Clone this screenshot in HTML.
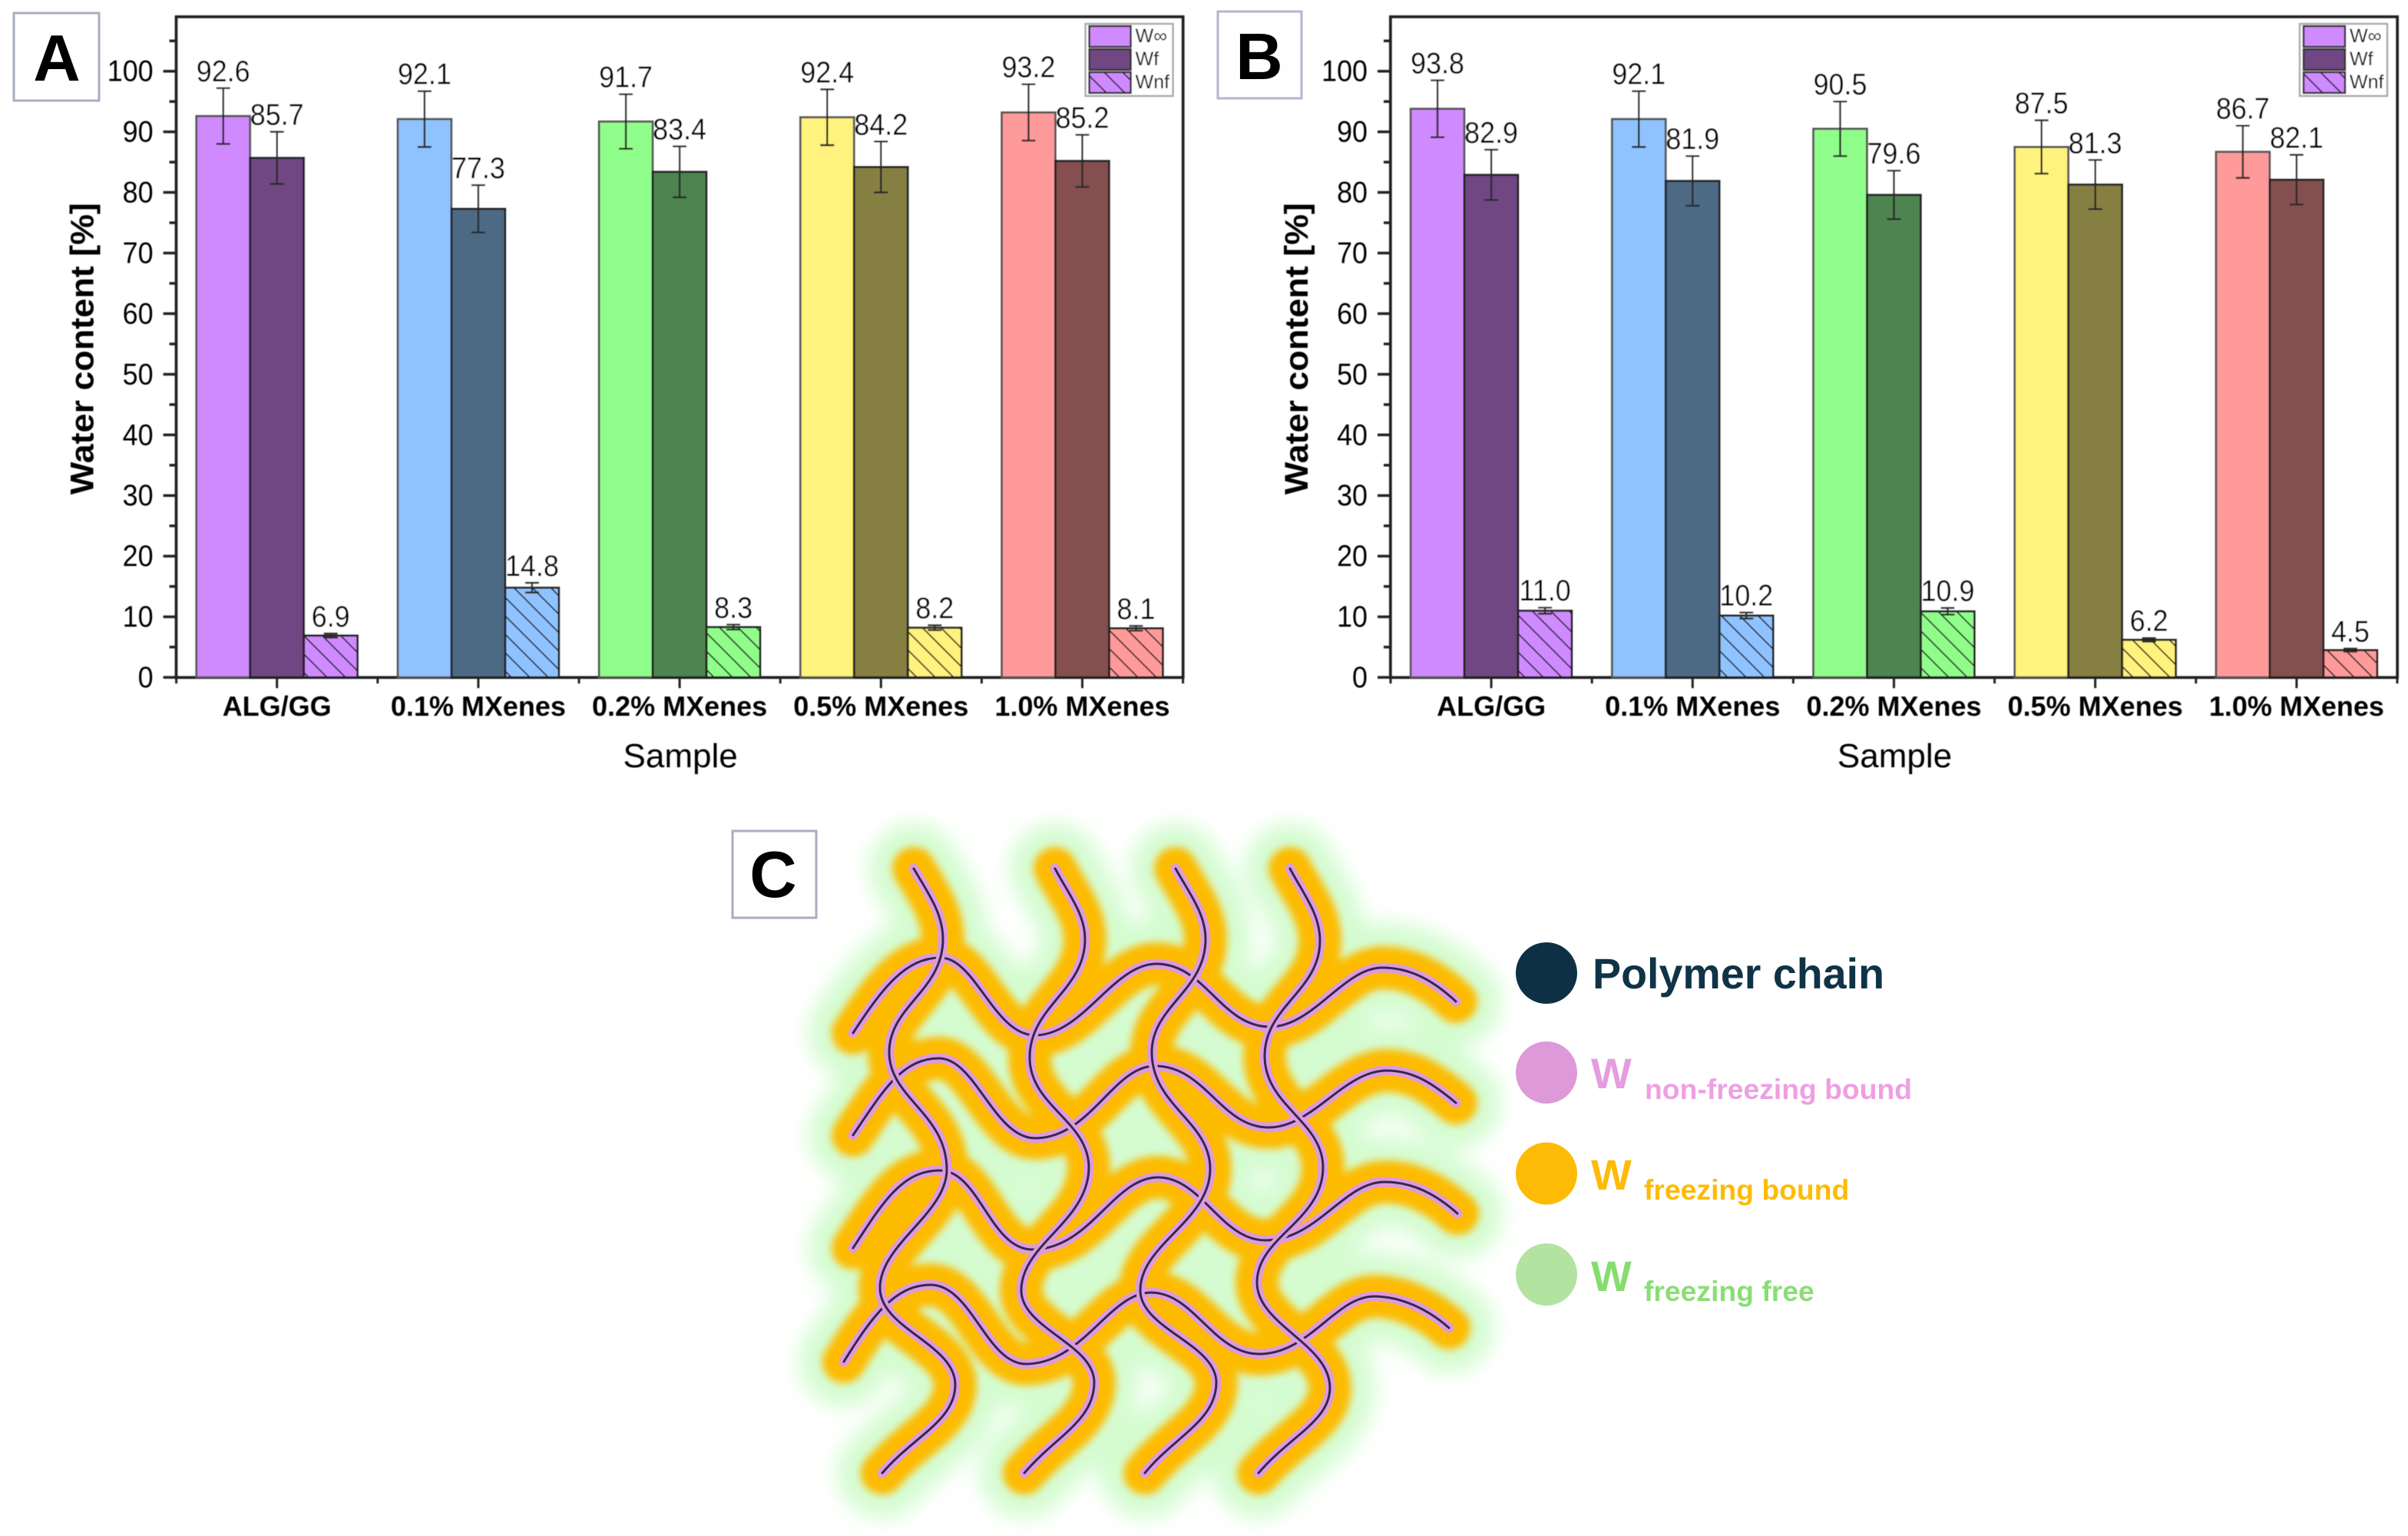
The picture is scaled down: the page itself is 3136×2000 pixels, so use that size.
<!DOCTYPE html>
<html lang="en">
<head>
<meta charset="utf-8">
<title>Water content in ALG/GG MXene hydrogels</title>
<style>
html,body{margin:0;padding:0;background:#fff;width:3136px;height:2000px;overflow:hidden}
svg{display:block}
text{font-family:"Liberation Sans",Arial,sans-serif;fill:#000}
</style>
</head>
<body>
<svg id="figure" xmlns="http://www.w3.org/2000/svg" width="3136" height="2000" viewBox="0 0 3136 2000">
<defs>
<pattern id="hatch" patternUnits="userSpaceOnUse" width="24" height="24">
<path d="M-6 -6L30 30M-18 6L18 42M6 -18L42 18" stroke="#222" stroke-width="1.7" fill="none"/>
</pattern>
<filter id="soft" x="-2%" y="-2%" width="104%" height="104%"><feGaussianBlur stdDeviation="0.5"/></filter>
<filter id="blur-green" filterUnits="userSpaceOnUse" x="950" y="1000" width="1100" height="1000"><feGaussianBlur stdDeviation="13"/></filter>
<filter id="blur-orange" filterUnits="userSpaceOnUse" x="950" y="1000" width="1100" height="1000"><feGaussianBlur stdDeviation="5"/></filter>
<g id="net-rows">
<path d="M1111 1345C1150 1285 1180 1247 1225 1247C1270 1247 1295 1348 1348 1348C1410 1348 1450 1255 1506 1255C1570 1255 1590 1337 1654 1337C1710 1337 1750 1260 1800 1260C1835 1260 1865 1275 1896 1304"/>
<path d="M1111 1478C1150 1420 1175 1378 1223 1378C1270 1378 1295 1482 1348 1482C1420 1482 1450 1388 1504 1388C1570 1388 1590 1468 1652 1468C1710 1468 1750 1394 1806 1394C1840 1394 1865 1410 1896 1436"/>
<path d="M1111 1625C1150 1565 1175 1524 1224 1524C1275 1524 1290 1627 1344 1627C1420 1627 1450 1533 1508 1533C1565 1533 1590 1615 1648 1615C1715 1615 1750 1539 1803 1539C1840 1539 1870 1555 1898 1580"/>
<path d="M1099 1773C1135 1715 1165 1673 1212 1673C1265 1673 1285 1776 1336 1776C1410 1776 1445 1683 1499 1683C1555 1683 1580 1763 1640 1763C1705 1763 1740 1688 1789 1688C1825 1688 1860 1705 1887 1729"/>
</g>
<g id="net-cols">
<path d="M1190 1131C1210 1165 1228 1190 1228 1223C1228 1290 1158 1310 1158 1370C1158 1430 1233 1450 1233 1523C1233 1580 1146 1620 1146 1677C1146 1730 1244 1750 1244 1803C1244 1850 1190 1870 1149 1918"/>
<path d="M1374 1131C1392 1165 1413 1190 1413 1223C1413 1290 1341 1310 1341 1377C1341 1440 1418 1460 1418 1520C1418 1590 1330 1620 1330 1680C1330 1730 1425 1750 1425 1800C1425 1850 1375 1870 1334 1918"/>
<path d="M1531 1131C1550 1165 1570 1190 1570 1223C1570 1290 1500 1310 1500 1370C1500 1440 1576 1460 1576 1522C1576 1590 1485 1620 1485 1680C1485 1730 1584 1750 1584 1800C1584 1850 1530 1870 1491 1918"/>
<path d="M1680 1131C1698 1165 1719 1190 1719 1225C1719 1290 1647 1310 1647 1375C1647 1440 1723 1460 1723 1520C1723 1590 1637 1610 1637 1670C1637 1725 1732 1750 1732 1807C1732 1850 1680 1870 1639 1918"/>
</g>
</defs>

<g id="chart-a" filter="url(#soft)"></g>
<g id="chart-b" filter="url(#soft)"></g>

<g>
<rect x="18" y="17" width="111" height="114" fill="#fdfefd" stroke="#a9adc4" stroke-width="3"/>
<text x="74" y="105" font-size="85" font-weight="700" text-anchor="middle">A</text>
</g>
<g>
<rect x="1586" y="15" width="109" height="113" fill="#fdfefd" stroke="#b3b6d0" stroke-width="3"/>
<text x="1640" y="103" font-size="85" font-weight="700" text-anchor="middle">B</text>
</g>
<g>
<rect x="954" y="1082" width="109" height="113" fill="#fdfefd" stroke="#a9adc4" stroke-width="3"/>
<text x="1007" y="1168" font-size="85" font-weight="700" text-anchor="middle">C</text>
</g>

<g fill="none" stroke-linecap="round" stroke-linejoin="round">
<g stroke="#d4fcd0" stroke-width="118" filter="url(#blur-green)">
<use href="#net-rows"/><use href="#net-cols"/>
</g>
<g stroke="#fdbb05" stroke-width="56" filter="url(#blur-orange)">
<use href="#net-rows"/><use href="#net-cols"/>
</g>
<g stroke="#e09ad8" stroke-width="13">
<use href="#net-rows"/><use href="#net-cols"/>
</g>
<g stroke="#2f2a55" stroke-width="3">
<use href="#net-rows"/>
</g>
<g stroke="#e09ad8" stroke-width="11">
<use href="#net-cols"/>
</g>
<g stroke="#2f2a55" stroke-width="3">
<use href="#net-cols"/>
</g>
</g>

<g font-weight="700">
<g>
<ellipse cx="2014" cy="1267" rx="40" ry="40" fill="#0e3044"/>
<text x="2074" y="1287" font-size="55.6" font-weight="700" style="fill:#0f3347">Polymer chain</text>
</g>
<g>
<ellipse cx="2014" cy="1396.5" rx="40" ry="40.5" fill="#dd99d8"/>
<text x="2072" y="1417" font-size="56" font-weight="700" style="fill:#e59ddf">W</text>
<text x="2142" y="1431" font-size="37.3" font-weight="700" style="fill:#ee9fe2">non-freezing bound</text>
</g>
<g>
<ellipse cx="2014" cy="1528" rx="40" ry="40.5" fill="#fdbb05"/>
<text x="2072" y="1549" font-size="56" font-weight="700" style="fill:#fdbb05">W</text>
<text x="2141" y="1562" font-size="37.3" font-weight="700" style="fill:#fdbb05">freezing bound</text>
</g>
<g>
<ellipse cx="2014" cy="1659.5" rx="40" ry="40.5" fill="#b3e3a0"/>
<text x="2072" y="1681" font-size="56" font-weight="700" style="fill:#86dd6e">W</text>
<text x="2141" y="1694" font-size="37.3" font-weight="700" style="fill:#8ade75">freezing free</text>
</g>
</g>
</svg>

<script>
const categories = ["ALG/GG", "0.1% MXenes", "0.2% MXenes", "0.5% MXenes", "1.0% MXenes"];
const yTickLabels = [0, 10, 20, 30, 40, 50, 60, 70, 80, 90, 100];
const yMinorTicks = [5, 15, 25, 35, 45, 55, 65, 75, 85, 95, 105];

const aTotal = [92.6, 92.1, 91.7, 92.4, 93.2];
const aFreezing = [85.7, 77.3, 83.4, 84.2, 85.2];
const aNonFreezing = [6.9, 14.8, 8.3, 8.2, 8.1];
const aTotalErr = [4.6, 4.6, 4.5, 4.6, 4.65];
const aFreezingErr = [4.3, 3.9, 4.2, 4.2, 4.3];
const aNonFreezingErr = [0.35, 0.8, 0.4, 0.4, 0.4];

const bTotal = [93.8, 92.1, 90.5, 87.5, 86.7];
const bFreezing = [82.9, 81.9, 79.6, 81.3, 82.1];
const bNonFreezing = [11.0, 10.2, 10.9, 6.2, 4.5];
const bTotalErr = [4.7, 4.6, 4.5, 4.4, 4.3];
const bFreezingErr = [4.15, 4.1, 4.0, 4.05, 4.1];
const bNonFreezingErr = [0.5, 0.5, 0.55, 0.3, 0.25];

const lightFills = ["#cf8aff", "#8fc3ff", "#8ffd8a", "#fff27d", "#ff9a9a"];
const darkFills = ["#6f4783", "#4d6a85", "#4d844f", "#857f42", "#855050"];

const SVG_NS = "http://www.w3.org/2000/svg";
const PLOT_TOP = 22, PLOT_BOTTOM = 882, PLOT_WIDTH = 1311, BAR_W = 70;
const UNIT = 7.893;
const INK = "#222";
const LABEL_SQUEEZE = " scale(0.92 1)";

function node(tag, attrs, parent, content) {
  const e = document.createElementNS(SVG_NS, tag);
  for (const k in attrs) e.setAttribute(k, attrs[k]);
  if (content !== undefined) e.textContent = content;
  parent.appendChild(e);
  return e;
}
function yScale(v) { return PLOT_BOTTOM - v * UNIT; }

function drawChart(root, left, series, errors) {
  const xScale = function (i) { return left + (i + 0.5) * PLOT_WIDTH / categories.length; };
  const right = left + PLOT_WIDTH;

  const frame = node("rect", {x: left, y: PLOT_TOP, width: PLOT_WIDTH, height: PLOT_BOTTOM - PLOT_TOP, fill: "#fff", stroke: INK, "stroke-width": 4}, root);
  
  

  const yAxis = node("g", {}, root);
  
  
  yTickLabels.forEach(function (t) {
    const tick = node("line", {x1: left - 17, x2: left, y1: yScale(t), y2: yScale(t), stroke: INK, "stroke-width": 3.5}, yAxis);
    
    
    const lab = node("text", {"font-size": 39, "text-anchor": "end", transform: "translate(" + (left - 30) + " " + (yScale(t) + 13) + ")" + LABEL_SQUEEZE}, yAxis, String(t));
    
    
  });
  yMinorTicks.forEach(function (t) {
    const tick = node("line", {x1: left - 9, x2: left, y1: yScale(t), y2: yScale(t), stroke: INK, "stroke-width": 3.5}, yAxis);
    
    
  });

  const xAxis = node("g", {}, root);
  
  
  categories.forEach(function (c, i) {
    const tick = node("line", {x1: xScale(i), x2: xScale(i), y1: PLOT_BOTTOM, y2: PLOT_BOTTOM + 14, stroke: INK, "stroke-width": 3}, xAxis);
    
    
    const edge = xScale(i) - PLOT_WIDTH / categories.length / 2;
    const minor = node("line", {x1: edge, x2: edge, y1: PLOT_BOTTOM, y2: PLOT_BOTTOM + 8, stroke: INK, "stroke-width": 3}, xAxis);
    
    
    const lab = node("text", {x: xScale(i), y: 932, "font-size": 36, "font-weight": 700, "text-anchor": "middle"}, xAxis, c);
    
    
  });
  const lastEdge = node("line", {x1: right, x2: right, y1: PLOT_BOTTOM, y2: PLOT_BOTTOM + 8, stroke: INK, "stroke-width": 3}, xAxis);
  
  

  const xTitle = node("text", {x: left + PLOT_WIDTH / 2 + 1, y: 999, "font-size": 44, "text-anchor": "middle"}, root, "Sample");
  
  

  const titleX = left - 108;
  const yTitle = node("text", {x: titleX, y: 454, "font-size": 43, "font-weight": 700, "text-anchor": "middle", textLength: 380, lengthAdjust: "spacingAndGlyphs", transform: "rotate(-90 " + titleX + " 454)"}, root, "Water content [%]");
  
  

  const labels = [];
  categories.forEach(function (c, i) {
    const group = node("g", {}, root);
    
    
    series.forEach(function (values, s) {
      const barX = xScale(i) + (s - 1.5) * BAR_W;
      const fill = s === 1 ? darkFills[i] : lightFills[i];
      const stroke = s === 0 ? "#555" : "#222";
      const top = yScale(values[i]);
      const bar = node("rect", {x: barX, y: top, width: BAR_W, height: PLOT_BOTTOM - top, fill: fill, stroke: stroke, "stroke-width": 2.8}, group);
      
      
      if (s === 2) {
        const hatch = node("rect", {x: barX, y: top, width: BAR_W, height: PLOT_BOTTOM - top, fill: "url(#hatch)", stroke: "none"}, group);
        
        
      }
    });
    series.forEach(function (values, s) {
      const cx = xScale(i) + (s - 1) * BAR_W;
      const hi = yScale(values[i] + errors[s][i]);
      const lo = yScale(values[i] - errors[s][i]);
      const err = node("path", {d: "M" + (cx - 9) + " " + hi + "H" + (cx + 9) + "M" + cx + " " + hi + "V" + lo + "M" + (cx - 9) + " " + lo + "H" + (cx + 9), fill: "none", stroke: "#2a2a2a", "stroke-width": 2.4}, group);
      
      
      labels.push({x: cx, y: hi - 9, text: values[i].toFixed(1)});
    });
  });
  labels.forEach(function (l) {
    const t = node("text", {"font-size": 39, "text-anchor": "middle", transform: "translate(" + l.x + " " + l.y + ")" + LABEL_SQUEEZE}, root, l.text);
    
    
  });

  const legend = node("g", {}, root);
  
  
  const lx = right - 127;
  const box = node("rect", {x: lx, y: 31, width: 114, height: 94, fill: "#fff", stroke: "#aaa", "stroke-width": 2.5}, legend);
  
  
  ["W\u221E", "Wf", "Wnf"].forEach(function (name, k) {
    const sy = 34 + k * 30;
    const sw = node("rect", {x: lx + 5, y: sy, width: 54, height: 27, fill: k === 1 ? darkFills[0] : lightFills[0], stroke: "#333", "stroke-width": 2.4}, legend);
    
    
    if (k === 2) {
      const h = node("rect", {x: lx + 5, y: sy, width: 54, height: 27, fill: "url(#hatch)"}, legend);
      
      
    }
    const t = node("text", {x: lx + 65, y: sy + 21, "font-size": 25}, legend, name);
    
    
  });
}

drawChart(document.getElementById("chart-a"), 229.6, [aTotal, aFreezing, aNonFreezing], [aTotalErr, aFreezingErr, aNonFreezingErr]);
drawChart(document.getElementById("chart-b"), 1811, [bTotal, bFreezing, bNonFreezing], [bTotalErr, bFreezingErr, bNonFreezingErr]);
</script>
</body>
</html>
